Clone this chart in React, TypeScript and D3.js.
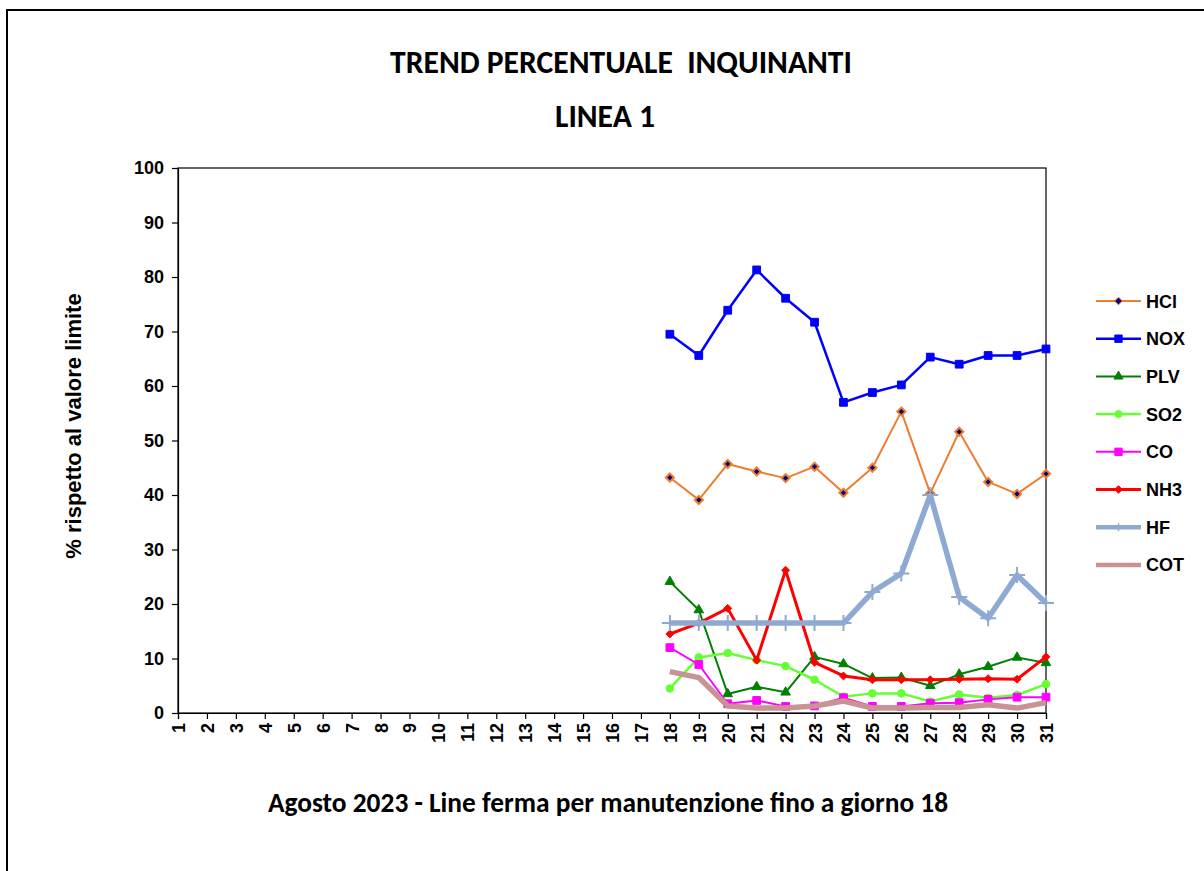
import { useEffect, useRef } from 'react';
import * as d3 from 'd3';

// giorni del mese (categorie asse x)
const days = [1, 2, 3, 4, 5, 6, 7, 8, 9, 10, 11, 12, 13, 14, 15, 16, 17, 18, 19, 20, 21, 22, 23, 24, 25, 26, 27, 28, 29, 30, 31];
// linea ferma fino al 18: valori solo dal 18 al 31
const activeDays = [18, 19, 20, 21, 22, 23, 24, 25, 26, 27, 28, 29, 30, 31];
const yTicks = [0, 10, 20, 30, 40, 50, 60, 70, 80, 90, 100];

const hcl = [43.2, 39.1, 45.7, 44.3, 43.1, 45.2, 40.4, 45.0, 55.3, 40.3, 51.6, 42.4, 40.2, 43.9];
const nox = [69.5, 65.6, 73.9, 81.3, 76.1, 71.7, 57.0, 58.8, 60.2, 65.3, 64.0, 65.6, 65.6, 66.8];
const plv = [24.1, 18.9, 3.5, 4.8, 3.8, 10.3, 9.0, 6.4, 6.5, 5.0, 7.1, 8.5, 10.2, 9.2];
const so2 = [4.5, 10.2, 11.0, 9.7, 8.6, 6.1, 3.0, 3.6, 3.6, 2.1, 3.4, 2.8, 3.3, 5.3];
const co = [12.0, 8.9, 1.7, 2.3, 1.2, 1.3, 2.8, 1.2, 1.2, 1.8, 1.9, 2.5, 2.9, 2.9];
const nh3 = [14.5, 16.5, 19.2, 9.7, 26.2, 9.3, 6.8, 6.1, 6.1, 6.1, 6.2, 6.3, 6.2, 10.3];
const hf = [16.5, 16.5, 16.5, 16.5, 16.5, 16.5, 16.5, 22.2, 25.6, 40.0, 21.3, 17.4, 25.3, 20.2];
const cot = [7.6, 6.5, 1.3, 0.9, 0.9, 1.3, 2.2, 0.9, 0.9, 1.0, 1.0, 1.5, 0.9, 1.9];

const series = [
  { name: 'HCl', values: hcl, color: '#ED7D31', width: 2, marker: 'diamond', fill: '#000080', size: 42 },
  { name: 'NOX', values: nox, color: '#0000FF', width: 2.5, marker: 'square', fill: '#0000FF', size: 60 },
  { name: 'PLV', values: plv, color: '#008000', width: 2, marker: 'triangle', fill: '#008000', size: 40 },
  { name: 'SO2', values: so2, color: '#66FF33', width: 2.5, marker: 'circle', fill: '#66FF33', size: 45 },
  { name: 'CO', values: co, color: '#FF00FF', width: 2, marker: 'square', fill: '#FF00FF', size: 60 },
  { name: 'NH3', values: nh3, color: '#FF0000', width: 3, marker: 'diamond', fill: '#FF0000', size: 40 },
  { name: 'HF', values: hf, color: '#8FAAD2', width: 5.5, marker: 'plus', fill: 'none', size: 0 },
  { name: 'COT', values: cot, color: '#C99393', width: 5.5, marker: 'none', fill: 'none', size: 0 },
];

const symbols = {
  diamond: d3.symbolDiamond2 || d3.symbolDiamond,
  square: d3.symbolSquare,
  triangle: d3.symbolTriangle,
  circle: d3.symbolCircle,
};

const W = 1204;
const H = 871;
const plot = { left: 178, right: 1046, top: 168, bottom: 713 };
const axisFont = '"Liberation Sans", Arial, sans-serif';
const titleFont = 'Carlito, Calibri, Lato, "Open Sans", sans-serif';

const App = () => {
  const svgRef = useRef(null);

  useEffect(() => {
    drawChart();
  }, []);

  const drawChart = () => {
    const svg = d3.select(svgRef.current);
    svg.selectAll('*').remove();

    const x = d3.scaleLinear().domain([1, 31]).range([plot.left, plot.right]);
    const y = d3.scaleLinear().domain([0, 100]).range([plot.bottom, plot.top]);

    // cornice esterna
    svg.append('rect')
      .attr('x', 7).attr('y', 10)
      .attr('width', W + 20).attr('height', H + 20)
      .attr('fill', 'white')
      .attr('stroke', 'black')
      .attr('stroke-width', 2);

    // titoli
    svg.append('text')
      .attr('x', 621).attr('y', 73)
      .attr('text-anchor', 'middle')
      .style('font-family', titleFont)
      .style('font-weight', 'bold')
      .style('font-size', '31.6px')
      .style('white-space', 'pre')
      .text('TREND PERCENTUALE  INQUINANTI');

    svg.append('text')
      .attr('x', 605).attr('y', 127)
      .attr('text-anchor', 'middle')
      .style('font-family', titleFont)
      .style('font-weight', 'bold')
      .style('font-size', '31.6px')
      .text('LINEA 1');

    // riquadro area grafico
    svg.append('rect')
      .attr('x', plot.left).attr('y', plot.top)
      .attr('width', plot.right - plot.left)
      .attr('height', plot.bottom - plot.top)
      .attr('fill', 'none')
      .attr('stroke', '#000')
      .attr('stroke-width', 1.2);

    // asse y
    const yAxis = svg.append('g')
      .attr('transform', `translate(${plot.left},0)`)
      .call(d3.axisLeft(y).tickValues(yTicks).tickSize(6).tickPadding(8));
    yAxis.select('.domain').attr('stroke', '#000').attr('stroke-width', 1.2);
    yAxis.selectAll('.tick line').attr('stroke', '#000').attr('stroke-width', 1.2);
    yAxis.selectAll('.tick text')
      .style('font-family', axisFont)
      .style('font-weight', 'bold')
      .style('font-size', '18px')
      .attr('fill', '#000');

    // asse x
    const xAxis = svg.append('g')
      .attr('transform', `translate(0,${plot.bottom})`)
      .call(d3.axisBottom(x).tickValues(days).tickFormat(d3.format('d')).tickSize(6).tickPadding(0));
    xAxis.select('.domain').attr('stroke', '#000').attr('stroke-width', 1.2);
    xAxis.selectAll('.tick line').attr('stroke', '#000').attr('stroke-width', 1.2);
    xAxis.selectAll('.tick text')
      .attr('y', 0)
      .attr('dy', null)
      .attr('transform', 'translate(6.5,10) rotate(-90)')
      .attr('text-anchor', 'end')
      .style('font-family', axisFont)
      .style('font-weight', 'bold')
      .style('font-size', '18px')
      .attr('fill', '#000');

    // titoli assi
    svg.append('text')
      .attr('transform', 'translate(81,426) rotate(-90)')
      .attr('text-anchor', 'middle')
      .style('font-family', axisFont)
      .style('font-weight', 'bold')
      .style('font-size', '22px')
      .text('% rispetto al valore limite');

    svg.append('text')
      .attr('x', 608).attr('y', 812)
      .attr('text-anchor', 'middle')
      .style('font-family', titleFont)
      .style('font-weight', 'bold')
      .style('font-size', '27.4px')
      .text('Agosto 2023 - Line ferma per manutenzione fino a giorno 18');

    const line = d3.line()
      .x((d) => x(d[0]))
      .y((d) => y(d[1]));

    series.forEach((s) => {
      const pts = activeDays.map((day, i) => [day, s.values[i]]);
      const g = svg.append('g');
      g.append('path')
        .datum(pts)
        .attr('d', line)
        .attr('fill', 'none')
        .attr('stroke', s.color)
        .attr('stroke-width', s.width)
        .attr('stroke-linejoin', 'round');

      if (s.marker === 'plus') {
        g.selectAll('path.m')
          .data(pts)
          .join('path')
          .attr('class', 'm')
          .attr('d', (d) => `M${x(d[0]) - 8},${y(d[1])}H${x(d[0]) + 8}M${x(d[0])},${y(d[1]) - 8}V${y(d[1]) + 8}`)
          .attr('stroke', s.color)
          .attr('stroke-width', 2);
      } else if (s.marker !== 'none') {
        const sym = d3.symbol().type(symbols[s.marker]).size(s.size);
        g.selectAll('path.m')
          .data(pts)
          .join('path')
          .attr('class', 'm')
          .attr('d', sym)
          .attr('transform', (d) => `translate(${x(d[0])},${y(d[1])})`)
          .attr('fill', s.fill)
          .attr('stroke', s.color)
          .attr('stroke-width', s.name === 'HCl' ? 2 : 1);
      }
    });

    // legenda
    const legend = svg.append('g');
    series.forEach((s, i) => {
      const ly = 301 + i * 37.7;
      legend.append('line')
        .attr('x1', 1096).attr('x2', 1141)
        .attr('y1', ly).attr('y2', ly)
        .attr('stroke', s.color)
        .attr('stroke-width', s.width > 4 ? 4.5 : s.width);
      if (s.marker === 'plus') {
        legend.append('path')
          .attr('d', `M1118.5,${ly - 4}V${ly + 4}`)
          .attr('stroke', s.color)
          .attr('stroke-width', 1.5);
      } else if (s.marker !== 'none') {
        const sym = d3.symbol().type(symbols[s.marker]).size(s.size * 0.9);
        legend.append('path')
          .attr('d', sym)
          .attr('transform', `translate(1118.5,${ly})`)
          .attr('fill', s.fill)
          .attr('stroke', s.color)
          .attr('stroke-width', 1);
      }
      legend.append('text')
        .attr('x', 1146).attr('y', ly + 6.5)
        .style('font-family', axisFont)
        .style('font-weight', 'bold')
        .style('font-size', '18px')
        .text(s.name);
    });
  };

  return (
    <svg
      ref={svgRef}
      width={W}
      height={H}
      style={{ position: 'absolute', left: 0, top: 0, background: 'white' }}
    />
  );
};

export default App;
